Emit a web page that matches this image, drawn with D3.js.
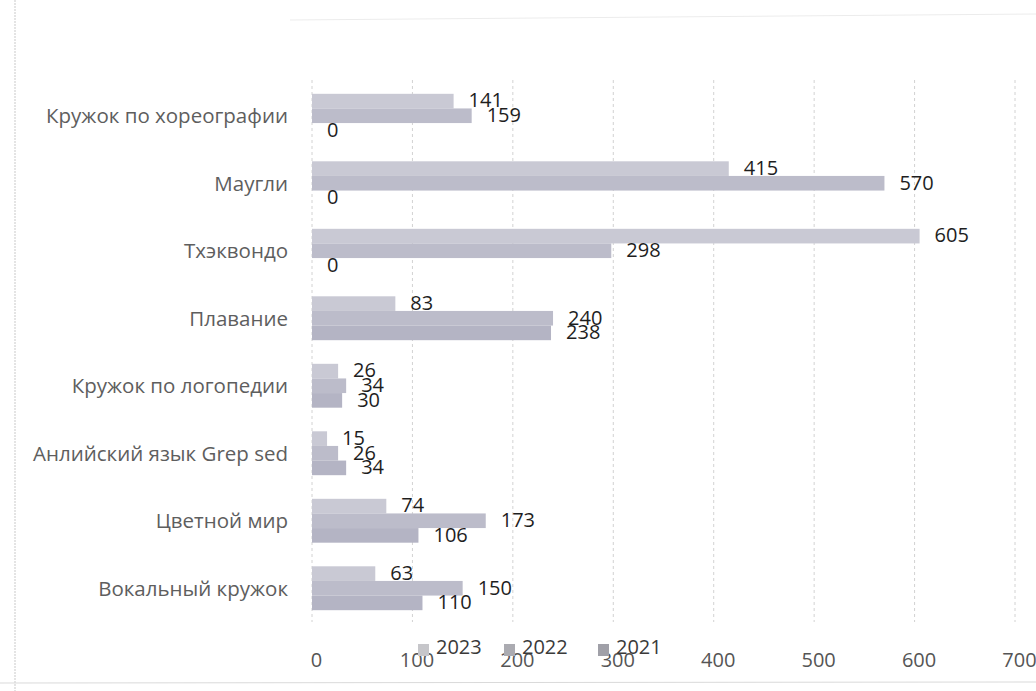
<!DOCTYPE html>
<html>
<head>
<meta charset="utf-8">
<script src="https://cdn.jsdelivr.net/npm/d3@7"></script>
<style>
  html, body { margin: 0; padding: 0; background: #ffffff; }
  svg { display: block; }
</style>
</head>
<body>
<svg id="chart" width="1036" height="691"></svg>
<script>
// ---- data ----
const categories = [
  "Кружок по хореографии",
  "Маугли",
  "Тхэквондо",
  "Плавание",
  "Кружок по логопедии",
  "Анлийский язык Grep sed",
  "Цветной мир",
  "Вокальный кружок"
];
const seriesNames = ["2023", "2022", "2021"];
const values2023 = [141, 415, 605, 83, 26, 15, 74, 63];
const values2022 = [159, 570, 298, 240, 34, 26, 173, 150];
const values2021 = [0, 0, 0, 238, 30, 34, 106, 110];
const xTicks = [0, 100, 200, 300, 400, 500, 600, 700];

const seriesValues = [values2023, values2022, values2021];
const barColors = ["#c9c9d4", "#bcbcca", "#b4b4c4"];
const legendColors = ["#c6c6ca", "#ababb1", "#a0a0a8"];

const svg = d3.select("#chart");
const font = "'Open Sans', 'Noto Sans', sans-serif";

// ---- scan artefacts (page edges) ----
svg.append("line").attr("x1", 15).attr("x2", 15).attr("y1", 0).attr("y2", 691)
  .attr("stroke", "#d2d2d2").attr("stroke-width", 1.2).attr("stroke-dasharray", "2,1");
svg.append("line").attr("x1", 0).attr("x2", 1036).attr("y1", 683).attr("y2", 682)
  .attr("stroke", "#dadada").attr("stroke-width", 1.2);
svg.append("line").attr("x1", 290).attr("x2", 1036).attr("y1", 20).attr("y2", 14)
  .attr("stroke", "#ececec").attr("stroke-width", 1);

// ---- scales ----
const x = d3.scaleLinear().domain([0, 700]).range([312, 1015]);
const y = d3.scaleBand().domain(categories).range([82, 622])
  .paddingInner(0.35).paddingOuter(0.175);
const ySub = d3.scaleBand().domain(seriesNames).range([0, y.bandwidth()]);

// ---- gridlines ----
const grid = svg.append("g");
grid.selectAll("line").data(xTicks).join("line")
  .attr("x1", d => x(d)).attr("x2", d => x(d))
  .attr("y1", 80).attr("y2", 622)
  .attr("stroke", "#d2d2d2")
  .attr("stroke-width", 1)
  .attr("stroke-dasharray", "3,3");

// ---- bars ----
const groups = svg.append("g").selectAll("g").data(categories).join("g")
  .attr("transform", d => `translate(0,${y(d)})`);

seriesNames.forEach((s, si) => {
  groups.append("rect")
    .attr("x", x(0))
    .attr("y", ySub(s))
    .attr("width", (d, i) => x(seriesValues[si][i]) - x(0))
    .attr("height", ySub.bandwidth())
    .attr("fill", barColors[si]);
});

// ---- data labels ----
seriesNames.forEach((s, si) => {
  groups.append("text")
    .attr("x", (d, i) => x(seriesValues[si][i]) + 15)
    .attr("y", ySub(s) + ySub.bandwidth() / 2 + 1)
    .attr("dominant-baseline", "middle")
    .attr("font-family", font)
    .attr("font-size", 20)
    .attr("fill", "#1e1e1e")
    .text((d, i) => seriesValues[si][i]);
});

// ---- category axis labels ----
svg.append("g").selectAll("text").data(categories).join("text")
  .attr("x", 288)
  .attr("y", d => y(d) + y.bandwidth() / 2 + 2)
  .attr("text-anchor", "end")
  .attr("dominant-baseline", "middle")
  .attr("font-family", font)
  .attr("font-size", 20.5)
  .attr("fill", "#5e5e5e")
  .text(d => d);

// ---- x axis ----
const xAxis = d3.axisBottom(x).tickValues(xTicks).tickSize(0).tickPadding(0);
const ax = svg.append("g").attr("transform", "translate(4,653)").call(xAxis);
ax.select(".domain").remove();
ax.selectAll("text")
  .attr("font-family", font)
  .attr("font-size", 20)
  .attr("fill", "#555555");

// ---- legend ----
const legendX = [418, 504, 598];
const legend = svg.append("g").selectAll("g").data(seriesNames).join("g")
  .attr("transform", (d, i) => `translate(${legendX[i]},644)`);
legend.append("rect").attr("x", 0).attr("y", 0).attr("width", 11).attr("height", 12)
  .attr("fill", (d, i) => legendColors[i]);
legend.append("text")
  .attr("x", 18).attr("y", 5)
  .attr("dominant-baseline", "middle")
  .attr("font-family", font)
  .attr("font-size", 20)
  .attr("fill", "#3a3a3a")
  .text(d => d);
</script>
</body>
</html>
